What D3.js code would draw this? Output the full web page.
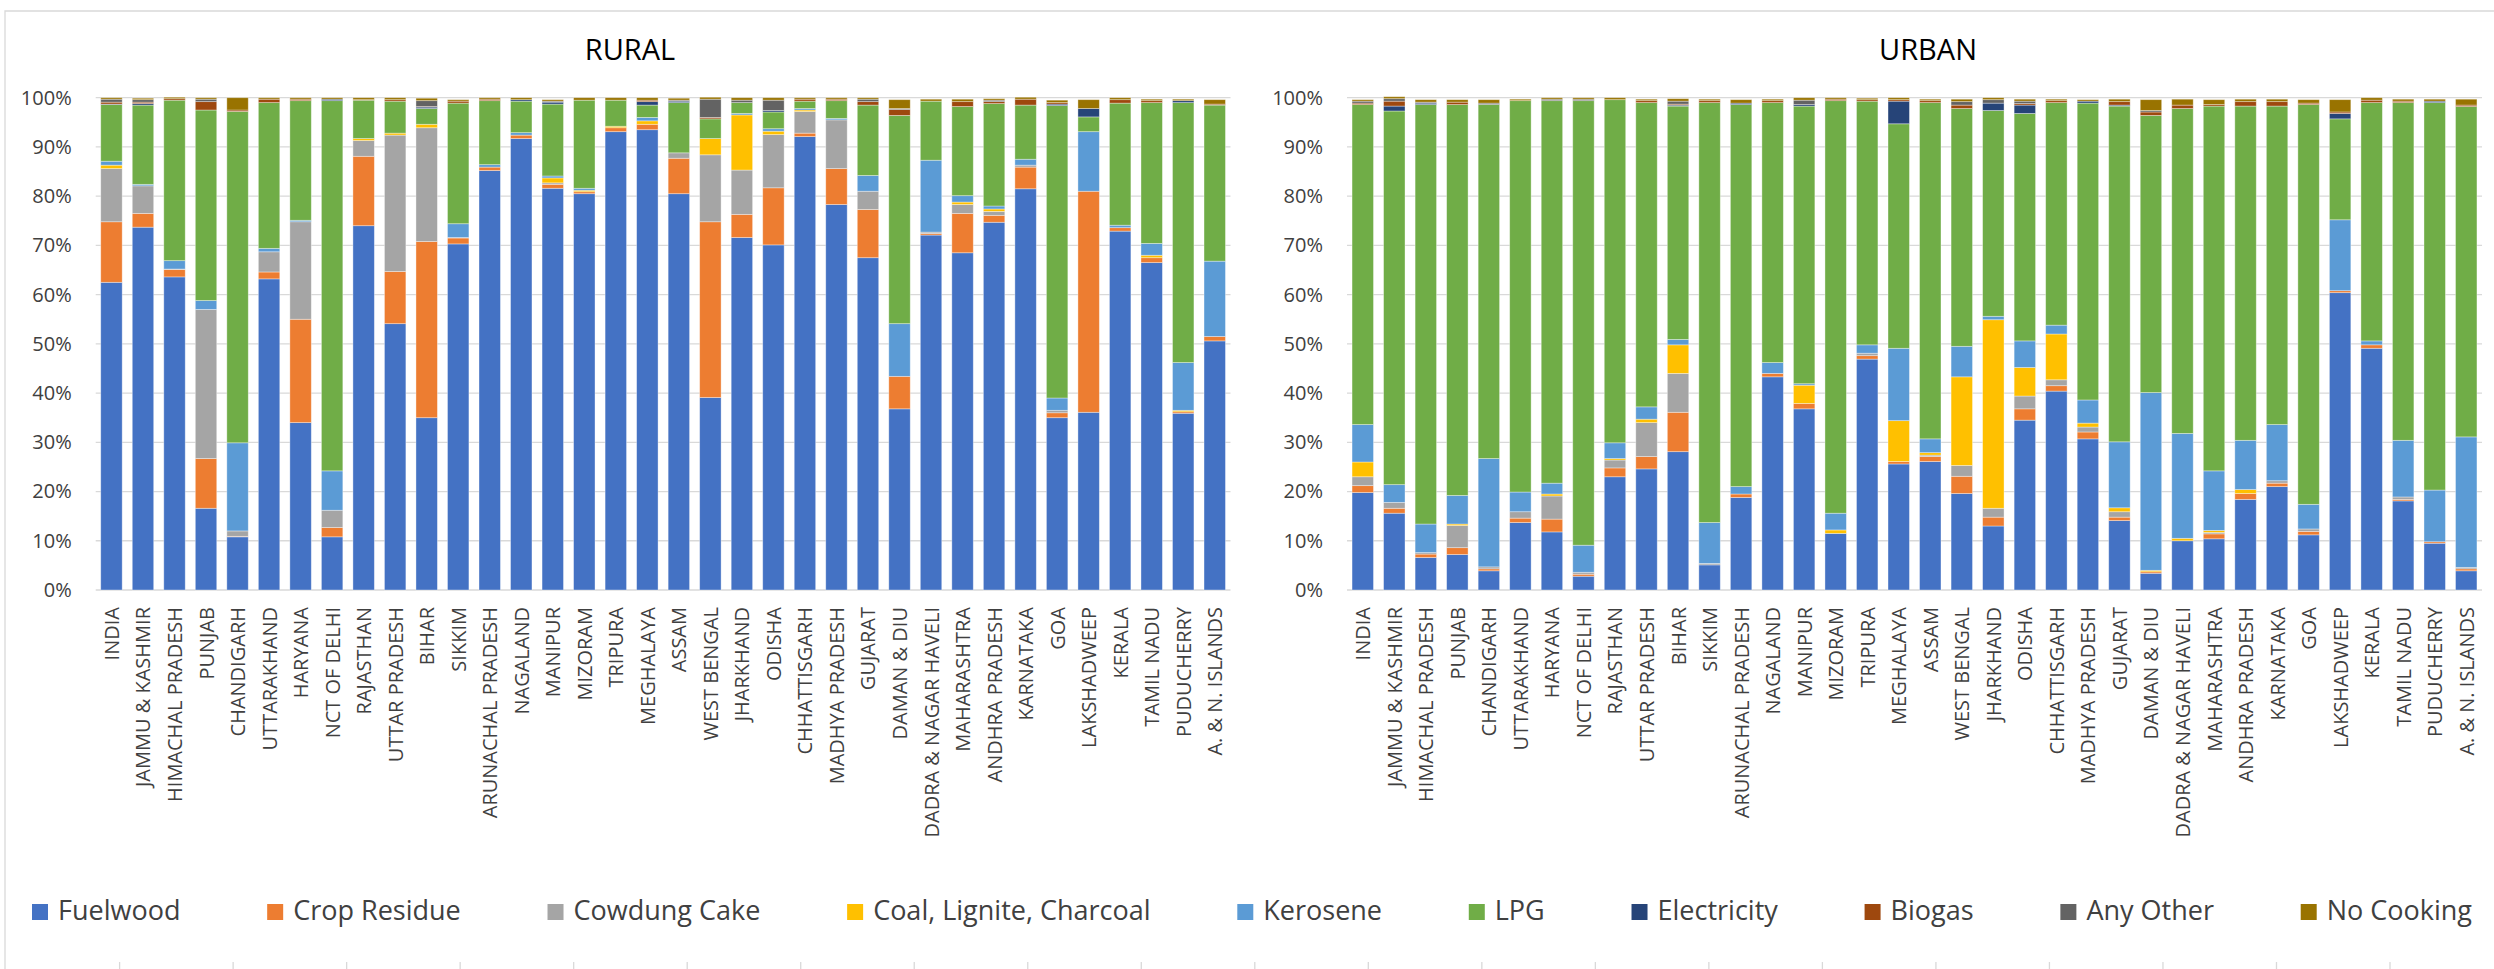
<!DOCTYPE html>
<html>
<head>
<meta charset="utf-8">
<script src="https://cdn.jsdelivr.net/npm/d3@7"></script>
<style>
  html, body { margin: 0; padding: 0; background: #fff; }
  svg { display: block; }
  text { font-family: "Open Sans", "Noto Sans", "Liberation Sans", sans-serif; }
</style>
</head>
<body>
<svg id="chart" width="2494" height="969"></svg>
<script>
// Household primary source of cooking fuel, % of households (Census 2011)
const states = ["INDIA", "JAMMU & KASHMIR", "HIMACHAL PRADESH", "PUNJAB", "CHANDIGARH", "UTTARAKHAND",
  "HARYANA", "NCT OF DELHI", "RAJASTHAN", "UTTAR PRADESH", "BIHAR", "SIKKIM", "ARUNACHAL PRADESH",
  "NAGALAND", "MANIPUR", "MIZORAM", "TRIPURA", "MEGHALAYA", "ASSAM", "WEST BENGAL", "JHARKHAND",
  "ODISHA", "CHHATTISGARH", "MADHYA PRADESH", "GUJARAT", "DAMAN & DIU", "DADRA & NAGAR HAVELI",
  "MAHARASHTRA", "ANDHRA PRADESH", "KARNATAKA", "GOA", "LAKSHADWEEP", "KERALA", "TAMIL NADU",
  "PUDUCHERRY", "A. & N. ISLANDS"];

const fuels = ["Fuelwood", "Crop Residue", "Cowdung Cake", "Coal, Lignite, Charcoal", "Kerosene",
  "LPG", "Electricity", "Biogas", "Any Other", "No Cooking"];
const fuelColors = ["#4472C4", "#ED7D31", "#A5A5A5", "#FFC000", "#5B9BD5",
  "#70AD47", "#264478", "#9E480E", "#636363", "#997300"];

const yTicks = [0, 10, 20, 30, 40, 50, 60, 70, 80, 90, 100];

// ---- Rural households ----
const ruralFuelwood = [62.5, 73.7, 63.6, 16.6, 10.8, 63.2, 34.0, 10.8, 74.0, 54.1, 35.0, 70.3, 85.2, 91.7, 81.6, 80.5, 93.1, 93.5, 80.5, 39.1, 71.6, 70.1, 92.1, 78.3, 67.5, 36.8, 72.1, 68.5, 74.7, 81.5, 35.0, 36.1, 72.9, 66.5, 35.9, 50.6];
const ruralCropResidue = [12.3, 2.8, 1.5, 10.1, 0.1, 1.4, 21.0, 1.9, 14.1, 10.6, 35.8, 1.2, 0.7, 0.7, 0.8, 0.4, 0.8, 1.1, 7.2, 35.7, 4.7, 11.6, 0.7, 7.3, 9.8, 6.6, 0.3, 8.0, 1.4, 4.4, 1.0, 44.9, 0.7, 1.0, 0.3, 0.9];
const ruralCowdung = [10.8, 5.6, 0.1, 30.3, 1.1, 4.1, 19.8, 3.5, 3.2, 27.7, 23.1, 0.1, 0, 0, 0.3, 0, 0, 0, 1.1, 13.6, 9.0, 10.8, 4.4, 9.9, 3.7, 0, 0.3, 1.8, 0.8, 0.4, 0.5, 0, 0, 0, 0, 0];
const ruralCoal = [0.7, 0, 0, 0, 0, 0, 0, 0, 0.4, 0.4, 0.7, 0, 0, 0, 1.0, 0.3, 0.3, 0.7, 0, 3.3, 11.2, 0.7, 0.3, 0, 0, 0, 0, 0.5, 0.5, 0, 0, 0, 0, 0.5, 0.3, 0];
const ruralKerosene = [0.8, 0.3, 1.7, 1.8, 17.9, 0.7, 0.3, 8.0, 0, 0, 0, 2.8, 0.5, 0.5, 0.4, 0.4, 0, 0.7, 0, 0, 0.3, 0.5, 0.3, 0.3, 3.2, 10.7, 14.6, 1.3, 0.6, 1.2, 2.5, 12.1, 0.5, 2.4, 9.7, 15.3];
const ruralLPG = [11.5, 16.1, 32.6, 38.7, 67.3, 29.6, 24.3, 75.2, 7.8, 6.5, 3.2, 24.5, 13.0, 6.4, 14.6, 17.9, 5.3, 2.5, 10.2, 4.0, 2.2, 3.4, 1.5, 3.6, 14.3, 42.3, 12.0, 18.1, 20.8, 11.0, 59.4, 3.0, 24.8, 28.6, 52.8, 31.7];
const ruralElectricity = [0.1, 0.3, 0, 0, 0, 0, 0, 0.3, 0, 0, 0.3, 0, 0, 0.3, 0.4, 0, 0, 0.7, 0.3, 0, 0, 0.3, 0, 0, 0, 0, 0, 0, 0, 0, 0.3, 1.7, 0, 0, 0.4, 0];
const ruralBiogas = [0.4, 0.3, 0.3, 1.7, 0.3, 0.7, 0.3, 0, 0.1, 0.3, 0.1, 0.4, 0.3, 0, 0, 0, 0, 0.3, 0, 0.3, 0, 0, 0.4, 0.3, 0.7, 1.2, 0, 1.0, 0.4, 1.2, 0.3, 0, 0.7, 0.4, 0, 0.2];
const ruralAnyOther = [0.6, 0.5, 0, 0.5, 0, 0, 0, 0, 0, 0, 1.2, 0, 0, 0, 0.2, 0, 0, 0, 0.2, 3.7, 0.5, 2.1, 0, 0, 0.5, 0.2, 0, 0, 0.3, 0, 0, 0, 0, 0, 0, 0];
const ruralNoCooking = [0.3, 0.3, 0.3, 0.3, 2.5, 0.3, 0.3, 0.3, 0.4, 0.4, 0.5, 0.3, 0.3, 0.4, 0.3, 0.5, 0.5, 0.5, 0.4, 0.4, 0.5, 0.5, 0.3, 0.3, 0.3, 1.8, 0.4, 0.5, 0.3, 0.4, 0.5, 1.8, 0.4, 0.3, 0.3, 0.9];

// ---- Urban households ----
const urbanFuelwood = [19.8, 15.6, 6.6, 7.2, 3.9, 13.7, 11.8, 2.8, 23.0, 24.6, 28.1, 5.1, 18.8, 43.3, 36.8, 11.5, 46.9, 25.6, 26.1, 19.6, 13.0, 34.5, 40.4, 30.7, 14.1, 3.4, 10.0, 10.4, 18.4, 21.0, 11.2, 60.4, 49.1, 18.1, 9.5, 3.9];
const urbanCropResidue = [1.4, 1.0, 0.7, 1.4, 0.4, 0.9, 2.6, 0.4, 1.8, 2.5, 8.0, 0, 0.7, 0.7, 1.1, 0, 0.7, 0.5, 1.0, 3.5, 1.8, 2.3, 1.1, 1.4, 0.7, 0.3, 0, 1.0, 1.2, 0.7, 0.7, 0.4, 0.7, 0.3, 0.3, 0.4];
const urbanCowdung = [1.8, 1.2, 0.3, 4.5, 0.4, 1.3, 4.7, 0.4, 1.6, 6.9, 7.9, 0.3, 0, 0, 0, 0, 0.5, 0, 0.3, 2.2, 1.8, 2.6, 1.2, 1.0, 1.1, 0, 0, 0.3, 0, 0.5, 0.5, 0, 0, 0.5, 0, 0.3];
const urbanCoal = [3.0, 0, 0, 0.3, 0, 0, 0.4, 0, 0.3, 0.7, 5.8, 0, 0, 0, 3.7, 0.7, 0, 8.3, 0.5, 18.0, 38.3, 5.8, 9.3, 0.8, 0.8, 0.3, 0.5, 0.4, 0.8, 0, 0, 0, 0, 0, 0, 0];
const urbanKerosene = [7.6, 3.6, 5.8, 5.8, 22.0, 4.0, 2.2, 5.5, 3.2, 2.5, 1.1, 8.3, 1.5, 2.2, 0.3, 3.4, 1.7, 14.7, 2.8, 6.2, 0.7, 5.4, 1.8, 4.7, 13.4, 36.1, 21.3, 12.1, 10.0, 11.4, 5.0, 14.4, 0.8, 11.5, 10.5, 26.5];
const urbanLPG = [65.0, 75.9, 85.2, 79.4, 71.9, 79.5, 77.7, 90.3, 69.7, 61.8, 47.4, 85.3, 77.6, 52.8, 56.4, 83.8, 49.5, 45.6, 68.3, 48.3, 41.8, 46.2, 45.2, 60.3, 68.2, 56.3, 66.0, 74.1, 67.9, 64.7, 81.2, 20.5, 48.4, 68.6, 78.7, 67.1];
const urbanElectricity = [0, 1.0, 0.3, 0, 0, 0, 0, 0, 0, 0, 0.2, 0, 0.3, 0, 0.3, 0, 0, 4.6, 0, 0, 1.5, 1.7, 0, 0.4, 0.2, 0, 0, 0, 0, 0, 0, 1.1, 0, 0, 0.3, 0];
const urbanBiogas = [0.3, 1.0, 0, 0.5, 0, 0, 0, 0, 0, 0.4, 0.2, 0.4, 0, 0.4, 0, 0.3, 0.3, 0.3, 0.4, 0.7, 0, 0.3, 0.4, 0, 0.7, 0.7, 0.7, 0.3, 0.9, 0.9, 0.3, 0.3, 0.5, 0.3, 0, 0.3];
const urbanAnyOther = [0.4, 0.5, 0.2, 0, 0.3, 0, 0.3, 0.3, 0, 0, 0.6, 0, 0, 0, 0.9, 0, 0, 0, 0, 0.7, 0.7, 0.5, 0, 0, 0, 0.3, 0, 0, 0, 0, 0, 0, 0, 0, 0, 0];
const urbanNoCooking = [0.3, 0.4, 0.5, 0.5, 0.7, 0.3, 0.3, 0.3, 0.4, 0.3, 0.5, 0.3, 0.7, 0.3, 0.5, 0.3, 0.3, 0.4, 0.3, 0.5, 0.4, 0.4, 0.3, 0.3, 0.5, 2.2, 1.2, 1.0, 0.5, 0.5, 0.7, 2.5, 0.5, 0.4, 0.4, 1.2];

// Build one row per state with a field for every fuel
function buildRows(seriesList) {
  return states.map((s, i) => {
    const row = { state: s };
    fuels.forEach((f, k) => { row[f] = seriesList[k][i]; });
    return row;
  });
}
const ruralRows = buildRows([ruralFuelwood, ruralCropResidue, ruralCowdung, ruralCoal, ruralKerosene,
  ruralLPG, ruralElectricity, ruralBiogas, ruralAnyOther, ruralNoCooking]);
const urbanRows = buildRows([urbanFuelwood, urbanCropResidue, urbanCowdung, urbanCoal, urbanKerosene,
  urbanLPG, urbanElectricity, urbanBiogas, urbanAnyOther, urbanNoCooking]);

const svg = d3.select("#chart");
const color = d3.scaleOrdinal().domain(fuels).range(fuelColors);
const stack = d3.stack().keys(fuels);

const plotTop = 97.7, plotBottom = 590;
const y = d3.scaleLinear().domain([0, 100]).range([plotBottom, plotTop]);

// outer chart border (top and left edges fall inside the canvas)
svg.append("path")
  .attr("d", "M5,969 V11 H2494")
  .attr("fill", "none").attr("stroke", "#d9d9d9").attr("stroke-width", 1.3);

const panels = [
  { title: "RURAL", rows: ruralRows, x0: 95.7, x1: 1230.5, titleX: 630 },
  { title: "URBAN", rows: urbanRows, x0: 1347, x1: 2482, titleX: 1928 }
];

panels.forEach(p => {
  const g = svg.append("g");
  const x = d3.scaleBand().domain(states).range([p.x0, p.x1]).paddingInner(0.32).paddingOuter(0.16);

  // title
  g.append("text")
    .attr("x", p.titleX).attr("y", 60)
    .attr("text-anchor", "middle")
    .attr("font-size", 29).attr("fill", "#000")
    .text(p.title);

  // horizontal gridlines
  g.append("g").selectAll("line").data(yTicks).join("line")
    .attr("x1", p.x0).attr("x2", p.x1)
    .attr("y1", d => y(d)).attr("y2", d => y(d))
    .attr("stroke", "#d9d9d9").attr("stroke-width", 1.3);

  // y axis labels
  const yAxis = d3.axisLeft(y).tickValues(yTicks).tickFormat(d => d + "%").tickSize(0).tickPadding(0);
  const ya = g.append("g").attr("transform", `translate(${p.x0 - 24},0)`).call(yAxis);
  ya.select(".domain").remove();
  ya.selectAll("text").attr("font-size", 20).attr("fill", "#404040")
    .attr("font-family", '"Open Sans", sans-serif');

  // stacked bars
  const series = stack(p.rows);
  g.append("g").selectAll("g").data(series).join("g")
    .attr("fill", d => color(d.key))
    .selectAll("rect").data(d => d.filter(v => v[1] - v[0] > 0)).join("rect")
    .attr("x", d => x(d.data.state))
    .attr("width", x.bandwidth())
    .attr("y", d => y(d[1]))
    .attr("height", d => y(d[0]) - y(d[1]))
    .attr("stroke", "#ffffff").attr("stroke-opacity", 0.45).attr("stroke-width", 0.8);

  // x axis labels, rotated
  const xAxis = d3.axisBottom(x).tickSize(0).tickPadding(0);
  const xa = g.append("g").attr("transform", `translate(0,${plotBottom})`).call(xAxis);
  xa.select(".domain").remove();
  xa.selectAll("text")
    .attr("font-size", 20).attr("fill", "#404040")
    .attr("font-family", '"Open Sans", sans-serif')
    .attr("text-anchor", "end")
    .attr("dy", null).attr("y", 0)
    .attr("dominant-baseline", "central")
    .attr("transform", "translate(0,17) rotate(-90)");
});

// legend: flowing row, spread over the chart width
const legendY = 920, sw = 16, textGap = 10;
const legend = svg.append("g");
const items = legend.selectAll("g").data(fuels).join("g");
items.append("rect").attr("width", sw).attr("height", sw).attr("y", legendY - sw)
  .attr("fill", d => color(d));
items.append("text").attr("x", sw + textGap).attr("y", legendY)
  .attr("font-size", 27).attr("fill", "#404040").text(d => d);
const widths = [];
items.each(function () { widths.push(sw + textGap + d3.select(this).select("text").node().getComputedTextLength()); });
const legStart = 32, legEnd = 2472;
const spacing = (legEnd - legStart - d3.sum(widths)) / (fuels.length - 1);
let cx = legStart;
items.attr("transform", (d, i) => { const t = `translate(${cx},0)`; cx += widths[i] + spacing; return t; });

// faint axis ticks along the bottom edge of the legend strip
svg.append("g").selectAll("line").data(d3.range(21)).join("line")
  .attr("x1", k => 119.6 + 113.52 * k).attr("x2", k => 119.6 + 113.52 * k)
  .attr("y1", 962).attr("y2", 969)
  .attr("stroke", "#d9d9d9").attr("stroke-width", 1.3);
</script>
</body>
</html>
